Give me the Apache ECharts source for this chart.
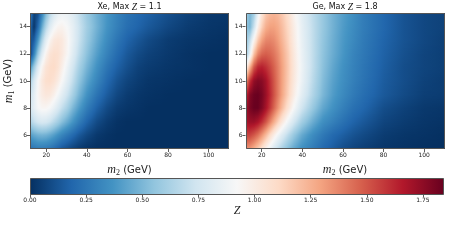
<!DOCTYPE html>
<html><head><meta charset="utf-8">
<script src="https://cdn.jsdelivr.net/npm/echarts@6/dist/echarts.min.js"></script>
<style>html,body{margin:0;padding:0;background:#fff}#c{width:450px;height:240px}</style>
</head><body><div id="c"></div>
<script>
// ---- data ----
const m2Grid = [12,14,16,18,20,22,24,26,28,30,33,36,40,45,50,55,60,65,70,80,90,100,110];
const m1Grid = [5,6,7,8,9,10,11,12,13,14,15];
// rows: m1 = 5 .. 15, columns: m2Grid
const xeZ = [
 [0.22,0.25,0.27,0.27,0.26,0.24,0.21,0.17,0.13,0.10,0.06,0.03,0.01,0.00,0.00,0.00,0.00,0.00,0.00,0.00,0.00,0.00,0.00],
 [0.40,0.45,0.48,0.49,0.48,0.45,0.41,0.36,0.31,0.26,0.20,0.14,0.08,0.03,0.01,0.00,0.00,0.00,0.00,0.00,0.00,0.00,0.00],
 [0.62,0.70,0.75,0.77,0.76,0.72,0.66,0.60,0.53,0.46,0.37,0.28,0.18,0.09,0.04,0.01,0.00,0.00,0.00,0.00,0.00,0.00,0.00],
 [0.75,0.84,0.91,0.94,0.94,0.91,0.85,0.78,0.70,0.62,0.50,0.40,0.28,0.17,0.09,0.04,0.02,0.01,0.00,0.00,0.00,0.00,0.00],
 [0.72,0.83,0.94,1.00,1.03,1.02,0.97,0.90,0.82,0.73,0.61,0.49,0.36,0.24,0.15,0.08,0.04,0.02,0.01,0.00,0.00,0.00,0.00],
 [0.60,0.77,0.92,1.02,1.08,1.09,1.06,1.00,0.92,0.82,0.69,0.56,0.43,0.31,0.20,0.12,0.07,0.04,0.02,0.01,0.00,0.00,0.00],
 [0.35,0.58,0.79,0.95,1.05,1.09,1.10,1.06,0.98,0.88,0.75,0.62,0.49,0.36,0.25,0.17,0.11,0.06,0.04,0.02,0.01,0.00,0.00],
 [0.03,0.30,0.58,0.80,0.96,1.05,1.08,1.07,1.02,0.94,0.81,0.68,0.54,0.41,0.30,0.21,0.14,0.09,0.06,0.03,0.01,0.00,0.00],
 [0.10,0.15,0.38,0.62,0.82,0.95,1.02,1.04,1.02,0.95,0.84,0.72,0.58,0.45,0.34,0.25,0.18,0.13,0.09,0.04,0.02,0.01,0.00],
 [0.20,0.02,0.20,0.45,0.65,0.80,0.90,0.95,0.96,0.92,0.84,0.73,0.60,0.48,0.37,0.29,0.22,0.18,0.14,0.08,0.04,0.02,0.01],
 [0.30,0.06,0.10,0.30,0.50,0.66,0.77,0.84,0.87,0.86,0.80,0.70,0.58,0.47,0.38,0.30,0.24,0.20,0.17,0.11,0.06,0.03,0.02]
];
const geZ = [
 [1.35,1.32,1.25,1.16,1.06,0.96,0.86,0.77,0.69,0.62,0.52,0.44,0.35,0.27,0.20,0.15,0.10,0.07,0.05,0.02,0.01,0.00,0.00],
 [1.55,1.55,1.50,1.43,1.33,1.22,1.10,0.99,0.89,0.80,0.68,0.57,0.45,0.34,0.26,0.20,0.16,0.12,0.09,0.04,0.02,0.01,0.00],
 [1.68,1.72,1.72,1.68,1.60,1.50,1.38,1.26,1.14,1.03,0.88,0.75,0.60,0.46,0.35,0.29,0.23,0.18,0.14,0.07,0.04,0.02,0.01],
 [1.70,1.80,1.84,1.84,1.78,1.69,1.58,1.46,1.34,1.22,1.06,0.91,0.74,0.57,0.44,0.36,0.29,0.23,0.19,0.10,0.06,0.03,0.02],
 [1.60,1.78,1.83,1.84,1.80,1.72,1.62,1.51,1.40,1.29,1.14,0.99,0.82,0.64,0.50,0.40,0.33,0.27,0.22,0.14,0.09,0.05,0.04],
 [1.35,1.60,1.74,1.78,1.76,1.70,1.60,1.50,1.40,1.30,1.16,1.02,0.86,0.67,0.52,0.42,0.35,0.29,0.24,0.15,0.10,0.06,0.04],
 [0.95,1.25,1.50,1.62,1.64,1.60,1.54,1.47,1.39,1.30,1.17,1.03,0.87,0.69,0.54,0.44,0.36,0.30,0.25,0.16,0.10,0.07,0.05],
 [0.55,0.85,1.20,1.38,1.46,1.48,1.46,1.42,1.36,1.28,1.16,1.02,0.86,0.69,0.55,0.46,0.38,0.31,0.26,0.17,0.11,0.07,0.05],
 [0.55,0.70,0.95,1.17,1.30,1.37,1.38,1.36,1.31,1.24,1.13,1.00,0.85,0.69,0.56,0.47,0.39,0.33,0.27,0.18,0.12,0.08,0.05],
 [0.55,0.50,0.72,0.98,1.15,1.26,1.30,1.30,1.27,1.21,1.11,0.99,0.84,0.69,0.57,0.48,0.40,0.34,0.28,0.19,0.12,0.08,0.06],
 [0.60,0.50,0.60,0.85,1.05,1.17,1.22,1.24,1.22,1.17,1.08,0.96,0.82,0.68,0.57,0.48,0.41,0.35,0.28,0.19,0.12,0.08,0.06]
];
const panelTitles = ['Xe, Max ', 'Ge, Max '];
const panelMaxLabels = ['1.1', '1.8'];
const xTickValues = [20,40,60,80,100];
const yTickValues = [6,8,10,12,14];
const cbarTickValues = [0,0.25,0.5,0.75,1.0,1.25,1.5,1.75];
const zMax = 1.845;
const m2Range = [12, 110];
const m1Range = [5, 15];

// ---- colormap (matplotlib RdBu_r) ----
const RDBU_R = ['#053061','#2166ac','#4393c3','#92c5de','#d1e5f0','#f7f7f7','#fddbc7','#f4a582','#d6604d','#b2182b','#67001f'];
const RGB = RDBU_R.map(h => [parseInt(h.slice(1,3),16), parseInt(h.slice(3,5),16), parseInt(h.slice(5,7),16)]);
function cmap(z) {
  let t = Math.max(0, Math.min(1, z / zMax)) * 10;
  let i = Math.min(9, Math.floor(t)); const u = t - i;
  const a = RGB[i], b = RGB[i+1];
  return 'rgb(' + Math.round(a[0]+(b[0]-a[0])*u) + ',' + Math.round(a[1]+(b[1]-a[1])*u) + ',' + Math.round(a[2]+(b[2]-a[2])*u) + ')';
}

function buildCells(Z) {
  const out = [];
  for (let j = 0; j < m1Grid.length - 1; j++) {
    for (let i = 0; i < m2Grid.length - 1; i++) {
      out.push([m2Grid[i], m2Grid[i+1], m1Grid[j], m1Grid[j+1],
                Z[j][i], Z[j][i+1], Z[j+1][i], Z[j+1][i+1]]);
    }
  }
  return out;
}

function renderCell(params, api) {
  const x0 = api.value(0), x1 = api.value(1), y0 = api.value(2), y1 = api.value(3);
  const zbl = +api.value(4), zbr = +api.value(5), ztl = +api.value(6), ztr = +api.value(7);
  const pA = api.coord([x0, y1]);
  const pB = api.coord([x1, y0]);
  const xL = Math.round(pA[0]), xR = Math.round(pB[0]);
  const yT = Math.round(pA[1]), yB = Math.round(pB[1]);
  const H = yB - yT;
  const children = [];
  if (xR <= xL) return {type: 'group', children};
  for (let k = 0; k < H; k++) {
    const t = (k + 0.5) / H;
    const zl = ztl + (zbl - ztl) * t, zr = ztr + (zbr - ztr) * t;
    const stops = [];
    for (let s = 0; s <= 4; s++) stops.push({offset: s / 4, color: cmap(zl + (zr - zl) * s / 4)});
    children.push({
      type: 'rect', silent: true,
      shape: {x: xL, y: yT + k, width: xR - xL, height: 1},
      style: {fill: new echarts.graphic.LinearGradient(0, 0, 1, 0, stops), opacity: 1, stroke: null}
    });
  }
  return {type: 'group', children};
}

function renderFrame(params, api) {
  const p0 = api.coord([api.value(0), api.value(3)]);
  const p1 = api.coord([api.value(1), api.value(2)]);
  return {type: 'rect', silent: true, z2: 100,
    shape: {x: Math.round(p0[0]) + 0.5, y: Math.round(p0[1]) + 0.5, width: Math.round(p1[0]) - Math.round(p0[0]) - 1, height: Math.round(p1[1]) - Math.round(p0[1]) - 1},
    style: {fill: null, stroke: '#555', lineWidth: 1}};
}

function renderCbar(params, api) {
  const p0 = api.coord([api.value(0), 1]);
  const p1 = api.coord([api.value(1), 0]);
  const stops = RDBU_R.map((c, i) => ({offset: i / 10, color: c}));
  const x = Math.round(p0[0]), y = Math.round(p0[1]);
  return {type: 'rect', silent: true,
    shape: {x: x + 0.5, y: y + 0.5, width: Math.round(p1[0]) - x - 1, height: Math.round(p1[1]) - y - 1},
    style: {fill: new echarts.graphic.LinearGradient(0, 0, 1, 0, stops), stroke: '#555', lineWidth: 1}};
}

const tickFont = {fontSize: 6, color: '#222', fontFamily: 'DejaVu Sans'};
const nameRich = {
  i: {fontFamily: 'Liberation Serif', fontStyle: 'italic', fontSize: 12, color: '#222'},
  s: {fontFamily: 'Liberation Serif', fontSize: 8, color: '#222', padding: [6, 0, 0, 0]},
  n: {fontFamily: 'DejaVu Sans', fontSize: 10, color: '#222'}
};
function xAx(gi) {
  return {type: 'value', gridIndex: gi, min: m2Range[0], max: m2Range[1],
    axisLine: {show: false}, splitLine: {show: false},
    axisTick: {show: true, customValues: xTickValues, length: 3, lineStyle: {color: '#333', width: 0.8}},
    axisLabel: Object.assign({customValues: xTickValues, margin: 3}, tickFont),
    name: '{i|m}{s|2}{n| (GeV)}', nameLocation: 'middle', nameGap: 14,
    nameTextStyle: {rich: nameRich}};
}
function yAx(gi, withName) {
  const a = {type: 'value', gridIndex: gi, min: m1Range[0], max: m1Range[1],
    axisLine: {show: false}, splitLine: {show: false},
    axisTick: {show: true, customValues: yTickValues, length: 3, lineStyle: {color: '#333', width: 0.8}},
    axisLabel: Object.assign({customValues: yTickValues, margin: 3}, tickFont)};
  if (withName) {
    a.name = '{i|m}{s|1}{n| (GeV)}'; a.nameLocation = 'middle'; a.nameGap = 14;
    a.nameTextStyle = {rich: nameRich};
  }
  return a;
}

const titleRich = {
  n: {fontFamily: 'DejaVu Sans', fontSize: 8, fontWeight: 'normal', color: '#111'},
  i: {fontFamily: 'Liberation Serif', fontStyle: 'italic', fontWeight: 'normal', fontSize: 9.5, color: '#111'}
};

const frameData = [[m2Range[0], m2Range[1], m1Range[0], m1Range[1]]];

const option = {
  animation: false,
  backgroundColor: '#fff',
  title: [
    {text: '{n|' + panelTitles[0] + '}{i|Z}{n| = ' + panelMaxLabels[0] + '}', left: 129.5, top: 2, textAlign: 'center', padding: 0, textStyle: {fontWeight: 'normal', rich: titleRich}},
    {text: '{n|' + panelTitles[1] + '}{i|Z}{n| = ' + panelMaxLabels[1] + '}', left: 345, top: 2, textAlign: 'center', padding: 0, textStyle: {fontWeight: 'normal', rich: titleRich}}
  ],
  grid: [
    {left: 30, top: 13, width: 199, height: 136},
    {left: 245.5, top: 13, width: 199, height: 136},
    {left: 30, top: 178, width: 414.3, height: 16.5}
  ],
  xAxis: [xAx(0), xAx(1),
    {type: 'value', gridIndex: 2, min: 0, max: zMax,
     axisLine: {show: false}, splitLine: {show: false},
     axisTick: {show: true, customValues: cbarTickValues, length: 3, lineStyle: {color: '#333', width: 0.8}},
     axisLabel: Object.assign({customValues: cbarTickValues, margin: 3, formatter: v => v.toFixed(2)}, tickFont),
     name: '{i|Z}', nameLocation: 'middle', nameGap: 10, nameTextStyle: {rich: {i: {fontFamily: 'Liberation Serif', fontStyle: 'italic', fontSize: 12, color: '#222'}}}}
  ],
  yAxis: [yAx(0, true), yAx(1, false),
    {type: 'value', gridIndex: 2, min: 0, max: 1, show: false}],
  series: [
    {type: 'custom', xAxisIndex: 0, yAxisIndex: 0, renderItem: renderCell, data: buildCells(xeZ), encode: {x: [0, 1], y: [2, 3]}, silent: true, itemStyle: {opacity: 1}, progressive: 0},
    {type: 'custom', xAxisIndex: 1, yAxisIndex: 1, renderItem: renderCell, data: buildCells(geZ), encode: {x: [0, 1], y: [2, 3]}, silent: true, itemStyle: {opacity: 1}, progressive: 0},
    {type: 'custom', xAxisIndex: 0, yAxisIndex: 0, renderItem: renderFrame, data: frameData, encode: {x: [0, 1], y: [2, 3]}, z: 5, silent: true},
    {type: 'custom', xAxisIndex: 1, yAxisIndex: 1, renderItem: renderFrame, data: frameData, encode: {x: [0, 1], y: [2, 3]}, z: 5, silent: true},
    {type: 'custom', xAxisIndex: 2, yAxisIndex: 2, renderItem: renderCbar, data: [[0, zMax]], encode: {x: [0, 1]}, silent: true}
  ]
};
const chart = echarts.init(document.getElementById('c'), null, {renderer: 'canvas'});
chart.setOption(option);
</script>
</body></html>
